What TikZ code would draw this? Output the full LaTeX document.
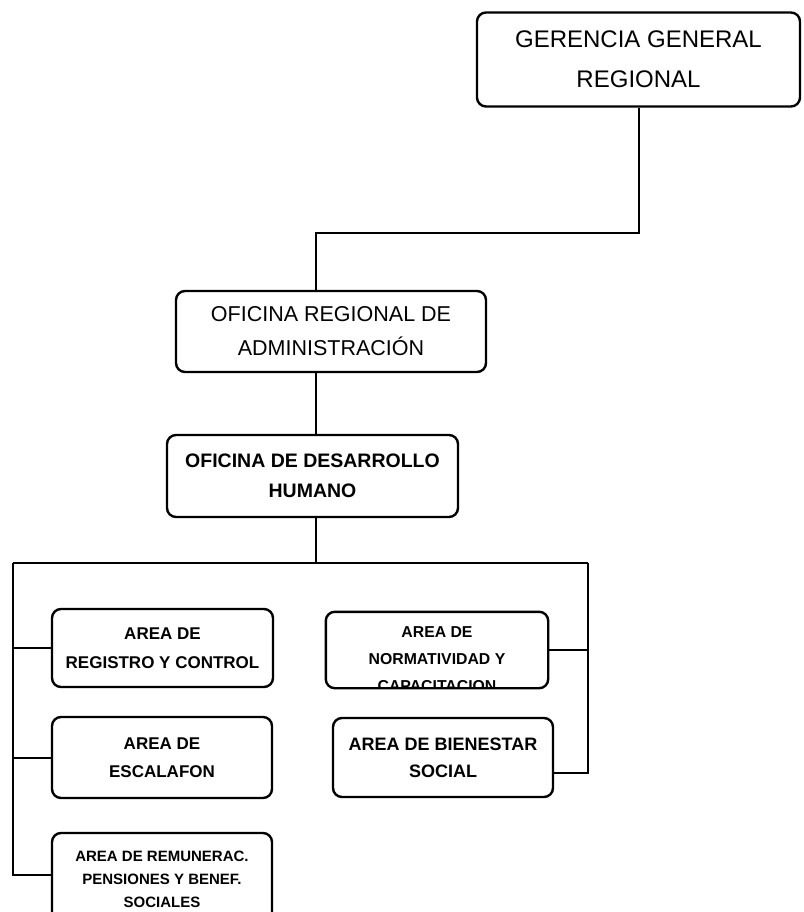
\documentclass[tikz,border=0pt]{standalone}
\usepackage{fontspec}
\setmainfont{Liberation Sans}
\begin{document}
\begin{tikzpicture}[x=1pt,y=-1pt,
  box/.style={draw, line width=2.4pt, rounded corners=9pt, align=center, inner sep=0pt},
  conn/.style={line width=2pt}]
\clip (0,0) rectangle (803,912);
\fill[white] (0,0) rectangle (803,912);
% top boxes
\node[box, minimum width=323pt, minimum height=94pt,
  font=\fontsize{24}{40}\selectfont] (ger) at (638.5,59.5) {GERENCIA GENERAL\\REGIONAL};
\node[box, minimum width=310pt, minimum height=81pt,
  font=\fontsize{21.5}{34}\selectfont] (ofi) at (331,331.5) {OFICINA REGIONAL DE\\ADMINISTRACIÓN};
\node[box, minimum width=291pt, minimum height=82pt,
  font=\bfseries\fontsize{19.5}{30}\selectfont] (des) at (312.5,476) {OFICINA DE DESARROLLO\\HUMANO};
% left areas
\node[box, minimum width=221pt, minimum height=78pt,
  font=\bfseries\fontsize{17}{29}\selectfont] (r1) at (162.5,648) {AREA DE\\REGISTRO Y CONTROL};
\node[box, minimum width=220pt, minimum height=81pt,
  font=\bfseries\fontsize{17}{28}\selectfont] (r2) at (162,757.5) {AREA DE\\ESCALAFON};
\node[box, minimum width=220pt, minimum height=92pt,
  font=\bfseries\fontsize{15}{23}\selectfont] (r3) at (162,879) {AREA DE REMUNERAC.\\PENSIONES Y BENEF.\\SOCIALES};
% right areas
\node[inner sep=0pt, minimum width=222pt, minimum height=76pt] (n1) at (437,650) {};
\begin{scope}
  \clip (326,613) rectangle (548,687);
  \node[align=center, inner sep=0pt, font=\bfseries\fontsize{15.8}{27}\selectfont] (n1t) at (437,659) {AREA DE\\NORMATIVIDAD Y\\CAPACITACION};
\end{scope}
\draw[line width=2.4pt, rounded corners=9pt] (n1.north west) rectangle (n1.south east);
\node[box, minimum width=220pt, minimum height=79pt,
  font=\bfseries\fontsize{18}{27}\selectfont] (b2) at (443,757.5) {AREA DE BIENESTAR\\SOCIAL};
% connector points
\coordinate (a) at (316,233);
\coordinate (busL) at (13,563);
\coordinate (busR) at (588,563);
\coordinate (rb) at (588,773);
% connectors
\draw[conn] (ger.south) |- (a) -- (a |- ofi.north);
\draw[conn] (ofi.south -| a) -- (des.north -| a);
\draw[conn] (des.south -| a) -- (a |- busL);
\draw[conn] (busL) -- (busR);
\draw[conn] (busL) |- (r3.west |- 0,875);
\draw[conn] (busL |- r1.west) -- (r1.west);
\draw[conn] (busL |- r2.west) -- (r2.west);
\draw[conn] (busR) -- (rb) -- (rb -| b2.east);
\draw[conn] (n1.east) -- (n1.east -| busR);
\end{tikzpicture}
\end{document}
